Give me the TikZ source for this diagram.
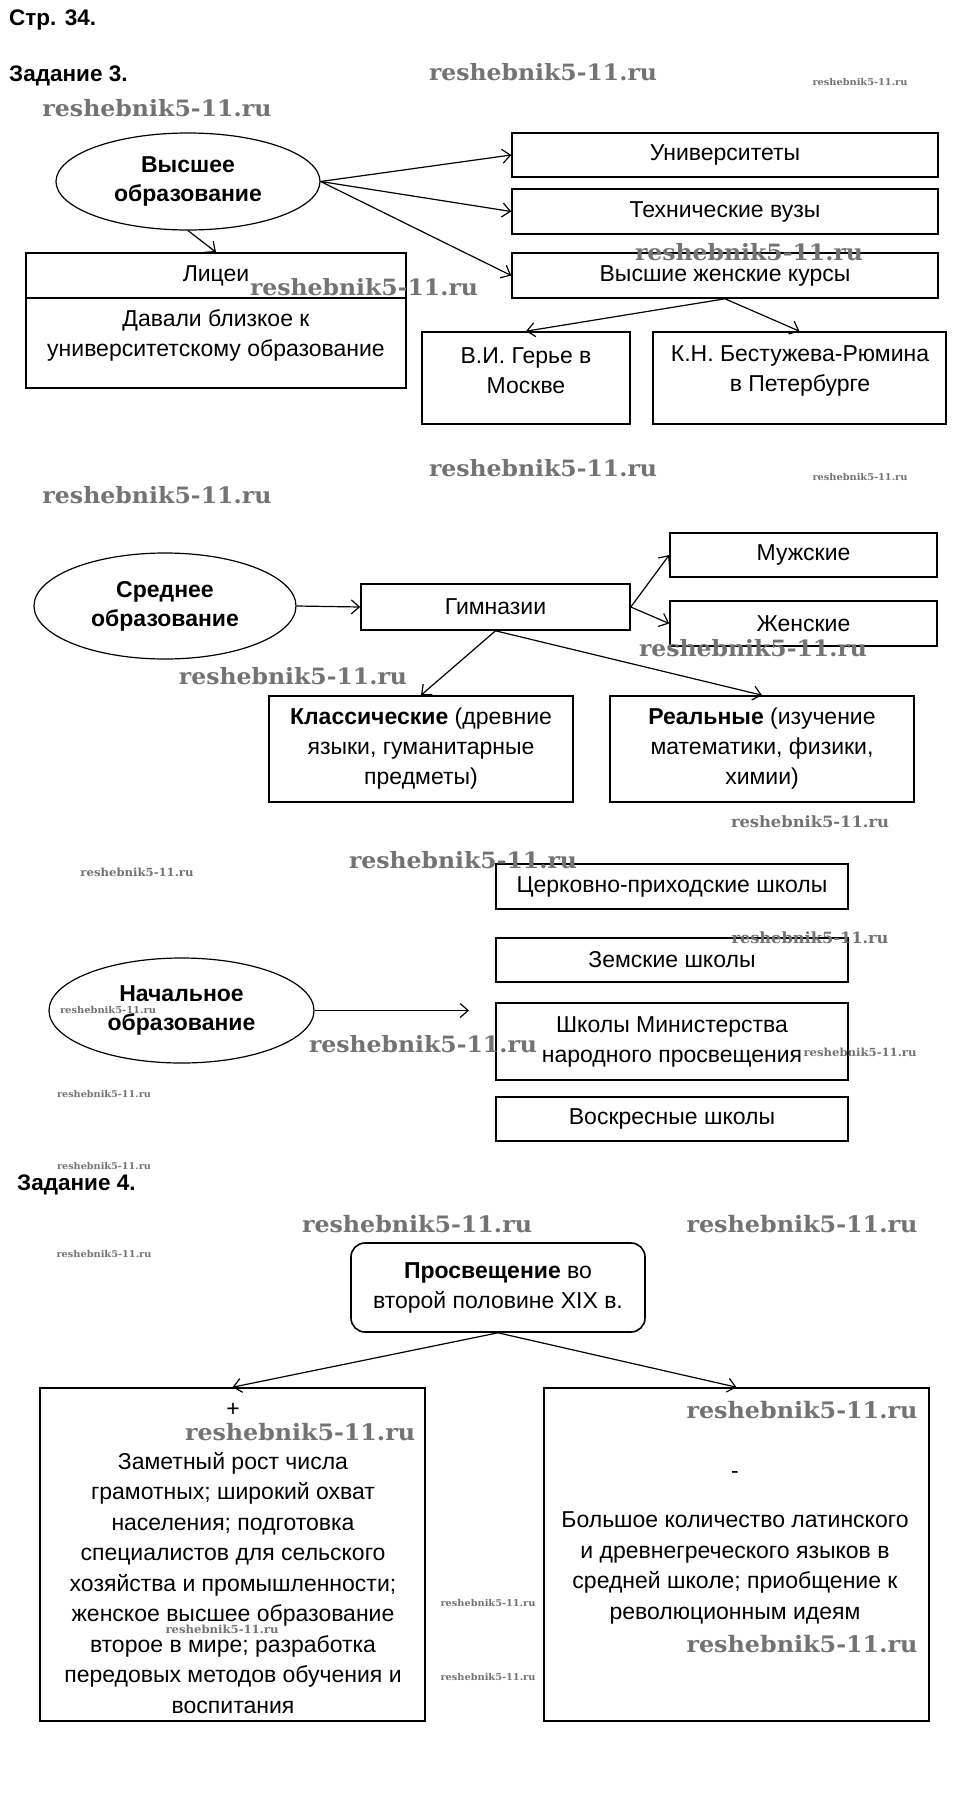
\documentclass[tikz,border=0pt]{standalone}
\usepackage{fontspec}
\setmainfont{Liberation Sans}
\newfontfamily\wmfont{DejaVu Serif}
\usetikzlibrary{arrows.meta,shapes.geometric}
\newcommand{\wmtext}{{\wmfont\bfseries\scalebox{1.05}[1]{reshebnik5-11.ru}}}
\newcommand{\wm}[4]{\node[wm] (#1) at (#2,#3) {\resizebox{#4pt}{!}{\wmtext}};}
\begin{document}
\begin{tikzpicture}[x=1pt,y=-1pt,
  every node/.style={font=\fontsize{23}{30}\selectfont},
  box/.style={draw,line width=1.6pt,inner sep=0pt,align=center},
  ell/.style={draw,ellipse,line width=1.2pt,inner sep=0pt,align=center,font=\fontsize{23}{29}\selectfont\bfseries},
  txt/.style={inner sep=0pt,align=center},
  arr/.style={line width=1.2pt,-{Straight Barb[length=8pt,width=14pt]}},
  wm/.style={text=black!55,inner sep=0pt},
  head/.style={font=\fontsize{22.5}{26}\selectfont\bfseries,anchor=west,inner sep=0pt}]
\fill[white] (0,0) rectangle (958,1820);
\useasboundingbox (0,0) rectangle (958,1820);

% headings
\node[head] (h1) at (9,20) {Стр. 34.};
\node[head] (h2) at (9,76) {Задание 3.};
\node[head] (h3) at (17,1185) {Задание 4.};

% ---- Task 3: higher education
\node[ell,minimum width=264pt,minimum height=97pt] (vys) at (188,181.5) {Высшее\\образование};
\node[box,minimum width=426pt,minimum height=44pt] (univ) at (725,155) {Университеты};
\node[box,minimum width=426pt,minimum height=45pt] (tech) at (725,211.5) {Технические вузы};
\node[box,minimum width=426pt,minimum height=45pt] (vjk) at (725,275.5) {Высшие женские курсы};
\node[box,minimum width=380pt,minimum height=45pt] (liceitop) at (216,275.5) {Лицеи};
\node[box,minimum width=380pt,minimum height=90pt] (liceibot) at (216,343) {};
\node[txt] (liceitxt) at (216,335) {Давали близкое к\\университетскому образование};
\node[box,minimum width=208pt,minimum height=92pt] (gerye) at (526,378) {};
\node[txt] (geryetxt) at (526,371) {В.И. Герье в\\Москве};
\node[box,minimum width=293pt,minimum height=92pt] (bestuzh) at (799.5,378) {};
\node[txt] (bestuzhtxt) at (800,371) {К.Н. Бестужева-Рюмина\\в Петербурге};

\draw[arr] (vys.east) -- (univ.west);
\draw[arr] (vys.east) -- (tech.west);
\draw[arr] (vys.east) -- (vjk.west);
\draw[arr] (vys.south) -- (liceitop.north);
\draw[arr] (vjk.south) -- (gerye.north);
\draw[arr] (vjk.south) -- (bestuzh.north);

% ---- secondary
\node[ell,minimum width=262pt,minimum height=106pt] (sred) at (165,606) {Среднее\\образование};
\node[box,minimum width=269pt,minimum height=46pt] (gym) at (495.5,607) {Гимназии};
\node[box,minimum width=267pt,minimum height=44pt] (muzh) at (803.5,555) {Мужские};
\node[box,minimum width=267pt,minimum height=45pt] (zhen) at (803.5,623.5) {Женские};
\node[box,minimum width=304pt,minimum height=106pt] (klass) at (421,749) {\textbf{Классические} (древние\\языки, гуманитарные\\предметы)};
\node[box,minimum width=304pt,minimum height=106pt] (real) at (762,749) {\textbf{Реальные} (изучение\\математики, физики,\\химии)};

\draw[arr] (sred.east) -- (gym.west);
\draw[arr] (gym.east) -- (muzh.west);
\draw[arr] (gym.east) -- (zhen.west);
\draw[arr] (gym.south) -- (klass.north);
\draw[arr] (gym.south) -- (real.north);

% ---- primary
\node[ell,minimum width=265pt,minimum height=105pt] (nach) at (181.5,1010.5) {Начальное\\образование};
\node[box,minimum width=352pt,minimum height=45pt] (cpr) at (672,886.5) {Церковно-приходские школы};
\node[box,minimum width=352pt,minimum height=44pt] (zem) at (672,960) {Земские школы};
\node[box,minimum width=352pt,minimum height=77pt] (minist) at (672,1041.5) {Школы Министерства\\народного просвещения};
\node[box,minimum width=352pt,minimum height=44pt] (vosk) at (672,1119) {Воскресные школы};
\coordinate (nachend) at (469,1010.5);
\draw[arr] (nach.east) -- (nachend);

% ---- Task 4
\node[box,rounded corners=14pt,minimum width=294pt,minimum height=89pt] (prosv) at (498,1287.5) {\textbf{Просвещение} во\\второй половине XIX в.};
\node[box,minimum width=385pt,minimum height=333pt] (plusbox) at (232.5,1554.5) {};
\node[box,minimum width=385pt,minimum height=333pt] (minusbox) at (736.5,1554.5) {};
\node[txt] (plus) at (233,1410) {+};
\node[txt] (minus) at (735,1475) {-};
\node[txt,font=\fontsize{23}{30.5}\selectfont] (plustxt) at (233,1583) {Заметный рост числа\\грамотных; широкий охват\\населения; подготовка\\специалистов для сельского\\хозяйства и промышленности;\\женское высшее образование\\второе в мире; разработка\\передовых методов обучения и\\воспитания};
\node[txt,font=\fontsize{23}{30.7}\selectfont] (minustxt) at (735,1568) {Большое количество латинского\\и древнегреческого языков в\\средней школе; приобщение к\\революционным идеям};
\draw[arr] (prosv.south) -- (plusbox.north);
\draw[arr] (prosv.south) -- (minusbox.north);

% ---- watermarks
\wm{wm1}{543}{72}{228}
\wm{wm2}{860}{82}{95}
\wm{wm3}{157}{108}{229}
\wm{wm4}{364}{287}{228}
\wm{wm5}{749}{252}{228}
\wm{wm6}{543}{468}{228}
\wm{wm7}{860}{477}{95}
\wm{wm8}{157}{495}{229}
\wm{wm9}{753}{648}{228}
\wm{wm10}{293}{676}{228}
\wm{wm11}{810}{822}{158}
\wm{wm12}{463}{860}{228}
\wm{wm13}{137}{872}{113}
\wm{wm14}{810}{938}{157}
\wm{wm15}{108}{1010}{96}
\wm{wm16}{423}{1044}{228}
\wm{wm17}{860}{1052}{113}
\wm{wm18}{104}{1094}{94}
\wm{wm19}{104}{1166}{94}
\wm{wm20}{417}{1224}{230}
\wm{wm21}{802}{1224}{231}
\wm{wm22}{104}{1254}{95}
\wm{wm23}{300}{1432}{230}
\wm{wm24}{802}{1410}{231}
\wm{wm25}{222}{1629}{113}
\wm{wm26}{488}{1603}{95}
\wm{wm27}{488}{1677}{95}
\wm{wm28}{802}{1644}{231}
\end{tikzpicture}
\end{document}
